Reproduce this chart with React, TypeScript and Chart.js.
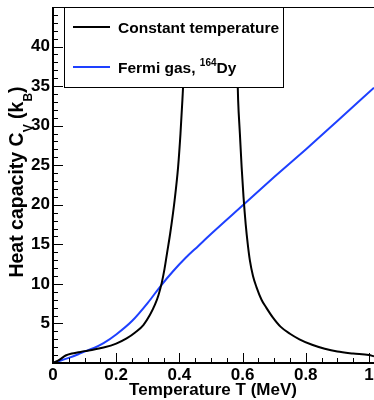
import React, { useEffect, useRef } from "react";
import { Chart, registerables } from "chart.js";

Chart.register(...registerables);

// Constant temperature model: temperature (MeV) and heat capacity (k_B)
const ctTemps = [0, 0.02, 0.04, 0.06, 0.08, 0.1, 0.13, 0.16, 0.2, 0.233, 0.26, 0.286, 0.307, 0.323, 0.334, 0.344, 0.353, 0.361, 0.371, 0.385, 0.396, 0.4035, 0.4095, 0.4165, 0.4215, 0.428,
  0.572, 0.5785, 0.582, 0.586, 0.5915, 0.597, 0.603, 0.61, 0.6165, 0.623, 0.633, 0.644, 0.66, 0.675, 0.695, 0.72, 0.75, 0.78, 0.82, 0.86, 0.9, 0.95, 1.0, 1.016];
const ctValues = [0, 0.4, 0.95, 1.2, 1.35, 1.5, 1.7, 1.95, 2.45, 3.1, 3.85, 4.8, 6.1, 7.4, 8.6, 10.1, 11.9, 13.9, 16.4, 20.6, 24.8, 29.0, 33.2, 39.0, 45.0, 56.0,
  56.0, 45.0, 39.0, 33.2, 29.0, 24.8, 21.0, 17.5, 15.0, 13.0, 11.0, 9.6, 8.0, 7.0, 5.8, 4.6, 3.7, 3.0, 2.3, 1.8, 1.45, 1.2, 1.0, 0.85];

// Fermi gas, 164Dy
const fgTemps = [0, 0.02, 0.05, 0.08, 0.1, 0.13, 0.16, 0.2, 0.25, 0.3, 0.34, 0.38, 0.42, 0.46, 0.5, 0.6, 0.7, 0.8, 0.9, 1.016];
const fgValues = [0, 0.25, 0.65, 1.1, 1.45, 1.9, 2.5, 3.6, 5.3, 7.6, 9.7, 11.6, 13.3, 14.8, 16.3, 19.9, 23.5, 27.0, 30.6, 34.8];

const xMin = 0;
const xMax = 1.016;
const yMin = 0;
const yMax = 45;
const xMajorStep = 0.2;
const xMinorStep = 0.05;
const yMajorStep = 5;
const yMinorStep = 1;

const seriesNames = ["Constant temperature", "Fermi gas, "];
const seriesSup = ["", "164"];
const seriesTail = ["", "Dy"];
const seriesColors = ["#000000", "#1e40ff"];

const FONT = "'Liberation Sans', Arial, Helvetica, sans-serif";

function fmtX(v: number): string {
  const r = Math.round(v * 10) / 10;
  if (r === 0) return "0";
  if (r === 1) return "1";
  return r.toFixed(1);
}

const framePlugin = {
  id: "rootFrame",
  afterDatasetsDraw(chart: any) {
    const ctx = chart.ctx as CanvasRenderingContext2D;
    const { left, right, top, bottom } = chart.chartArea;
    const xs = chart.scales.x;
    const ys = chart.scales.y;
    ctx.save();
    ctx.strokeStyle = "#000";
    ctx.lineCap = "butt";

    // tick marks (inside)
    ctx.lineWidth = 1;
    const nY = Math.round((yMax - yMin) / yMinorStep);
    for (let i = 1; i < nY; i++) {
      const v = yMin + i * yMinorStep;
      const len = Math.abs(v % yMajorStep) < 1e-9 ? 10 : 5;
      const py = Math.round(ys.getPixelForValue(v)) + 0.5;
      ctx.beginPath();
      ctx.moveTo(left, py);
      ctx.lineTo(left + len, py);
      ctx.stroke();
    }
    const nX = Math.floor((xMax - xMin) / xMinorStep + 1e-9);
    for (let i = 1; i <= nX; i++) {
      const v = xMin + i * xMinorStep;
      const len = i % Math.round(xMajorStep / xMinorStep) === 0 ? 10 : 5;
      const px = Math.round(xs.getPixelForValue(v)) + 0.5;
      ctx.beginPath();
      ctx.moveTo(px, bottom);
      ctx.lineTo(px, bottom - len);
      ctx.stroke();
    }

    // frame lines
    ctx.lineWidth = 1;
    ctx.beginPath();
    ctx.moveTo(left, top + 0.5);
    ctx.lineTo(right, top + 0.5);
    ctx.stroke();
    ctx.lineWidth = 2;
    ctx.beginPath();
    ctx.moveTo(left, top);
    ctx.lineTo(left, bottom + 1);
    ctx.moveTo(left - 1, bottom);
    ctx.lineTo(right, bottom);
    ctx.stroke();

    // legend
    const lx0 = 64.5, ly0 = top + 0.5, lx1 = 283.5, ly1 = 87.5;
    ctx.fillStyle = "#fff";
    ctx.fillRect(lx0, ly0, lx1 - lx0, ly1 - ly0);
    ctx.lineWidth = 1;
    ctx.strokeRect(lx0, ly0, lx1 - lx0, ly1 - ly0);
    const rowsY = [27, 67];
    for (let i = 0; i < seriesNames.length; i++) {
      const y = rowsY[i];
      ctx.strokeStyle = seriesColors[i];
      ctx.lineWidth = 2;
      ctx.beginPath();
      ctx.moveTo(73, y);
      ctx.lineTo(110, y);
      ctx.stroke();
      ctx.fillStyle = "#000";
      ctx.textBaseline = "alphabetic";
      ctx.textAlign = "left";
      let x = 118;
      ctx.font = `bold 15.5px ${FONT}`;
      ctx.fillText(seriesNames[i], x, y + 5.5);
      x += ctx.measureText(seriesNames[i]).width;
      if (seriesSup[i]) {
        ctx.font = `bold 10px ${FONT}`;
        ctx.fillText(seriesSup[i], x, y - 1);
        x += ctx.measureText(seriesSup[i]).width;
      }
      if (seriesTail[i]) {
        ctx.font = `bold 15.5px ${FONT}`;
        ctx.fillText(seriesTail[i], x, y + 5.5);
      }
    }

    // x title
    ctx.fillStyle = "#000";
    ctx.font = `bold 17px ${FONT}`;
    ctx.textAlign = "center";
    ctx.textBaseline = "alphabetic";
    ctx.fillText("Temperature T (MeV)", 213, 395);

    // y title (rotated)
    const parts = [
      { t: "Heat capacity C", f: `bold 19.5px ${FONT}`, dy: 7.5 },
      { t: "V", f: `bold 12px ${FONT}`, dy: 17 },
      { t: " (k", f: `bold 19.5px ${FONT}`, dy: 7.5 },
      { t: "B", f: `bold 12px ${FONT}`, dy: 17 },
      { t: ")", f: `bold 19.5px ${FONT}`, dy: 7.5 },
    ];
    let total = 0;
    for (const p of parts) {
      ctx.font = p.f;
      total += ctx.measureText(p.t).width;
    }
    ctx.translate(15, 182);
    ctx.rotate(-Math.PI / 2);
    ctx.textAlign = "left";
    let px = -total / 2;
    for (const p of parts) {
      ctx.font = p.f;
      ctx.fillText(p.t, px, p.dy);
      px += ctx.measureText(p.t).width;
    }
    ctx.restore();
  },
};

export default function App() {
  const ref = useRef<HTMLCanvasElement | null>(null);
  useEffect(() => {
    if (!ref.current) return;
    const tickFont = { family: FONT, size: 17, weight: "bold" as const };
    const chart = new Chart(ref.current, {
      type: "line",
      data: {
        datasets: [
          {
            label: seriesNames[0],
            data: ctTemps.map((t, i) => ({ x: t, y: ctValues[i] })),
            borderColor: seriesColors[0],
            borderWidth: 2,
            pointRadius: 0,
            fill: false,
            cubicInterpolationMode: "monotone",
          },
          {
            label: seriesNames[1] + seriesSup[1] + seriesTail[1],
            data: fgTemps.map((t, i) => ({ x: t, y: fgValues[i] })),
            borderColor: seriesColors[1],
            borderWidth: 2,
            pointRadius: 0,
            fill: false,
            cubicInterpolationMode: "monotone",
          },
        ],
      },
      options: {
        animation: false,
        responsive: false,
        maintainAspectRatio: false,
        layout: { padding: { left: 0, right: 0, top: 7, bottom: 0 } },
        plugins: { legend: { display: false }, tooltip: { enabled: false } },
        scales: {
          x: {
            type: "linear",
            min: xMin,
            max: xMax,
            grid: { display: false, drawTicks: false },
            border: { display: false },
            ticks: {
              stepSize: xMajorStep,
              includeBounds: false,
              autoSkip: false,
              maxRotation: 0,
              padding: 2,
              color: "#000",
              font: tickFont,
              callback: (v: any) => fmtX(Number(v)),
            },
            afterFit: (s: any) => {
              s.height = 37;
              s.paddingLeft = 0;
              s.paddingRight = 0;
            },
          },
          y: {
            type: "linear",
            min: yMin,
            max: yMax,
            grid: { display: false, drawTicks: false },
            border: { display: false },
            ticks: {
              stepSize: yMajorStep,
              includeBounds: false,
              autoSkip: false,
              padding: 3,
              color: "#000",
              font: tickFont,
              callback: (v: any) => (Number(v) === yMin || Number(v) === yMax ? "" : String(v)),
            },
            afterFit: (s: any) => {
              s.width = 53;
              s.paddingTop = 0;
              s.paddingBottom = 0;
            },
          },
        },
      },
      plugins: [framePlugin],
    } as any);
    return () => chart.destroy();
  }, []);
  return (
    <div style={{ position: "fixed", left: 0, top: 0, width: 374, height: 400, background: "#fff" }}>
      <canvas ref={ref} width={374} height={400} style={{ width: 374, height: 400 }} />
    </div>
  );
}
